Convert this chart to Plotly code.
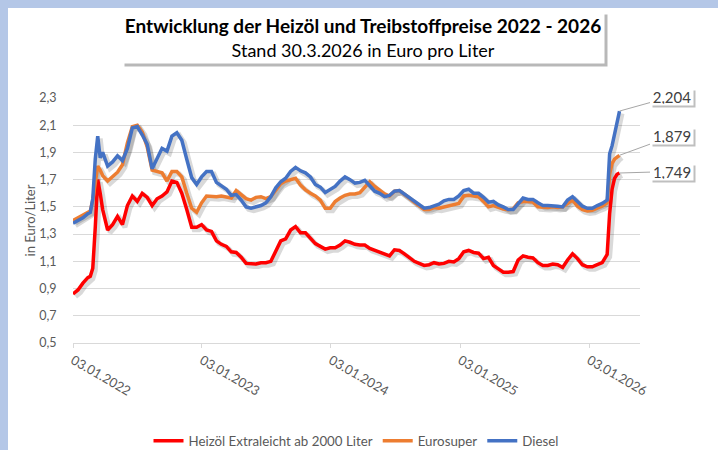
import plotly.graph_objects as go
import pandas as pd

# ---------------- data ----------------
dates = [
    "2022-01-03", "2022-01-17", "2022-01-31", "2022-02-14", "2022-02-21", "2022-02-28",
    "2022-03-07", "2022-03-14", "2022-03-21", "2022-03-28", "2022-04-11", "2022-04-25",
    "2022-05-09", "2022-05-23", "2022-06-06", "2022-06-20", "2022-07-04", "2022-07-18",
    "2022-08-01", "2022-08-15", "2022-08-29", "2022-09-12", "2022-09-26", "2022-10-10",
    "2022-10-24", "2022-11-07", "2022-11-21", "2022-12-05", "2022-12-19",
    "2023-01-02", "2023-01-16", "2023-01-30", "2023-02-13", "2023-02-27", "2023-03-13",
    "2023-03-27", "2023-04-10", "2023-04-24", "2023-05-08", "2023-05-22", "2023-06-05",
    "2023-06-19", "2023-07-03", "2023-07-17", "2023-07-31", "2023-08-14", "2023-08-28",
    "2023-09-11", "2023-09-25", "2023-10-09", "2023-10-23", "2023-11-06", "2023-11-20",
    "2023-12-04", "2023-12-18",
    "2024-01-01", "2024-01-15", "2024-01-29", "2024-02-12", "2024-02-26", "2024-03-11",
    "2024-03-25", "2024-04-08", "2024-04-22", "2024-05-06", "2024-05-20", "2024-06-03",
    "2024-06-17", "2024-07-01", "2024-07-15", "2024-07-29", "2024-08-12", "2024-08-26",
    "2024-09-09", "2024-09-23", "2024-10-07", "2024-10-21", "2024-11-04", "2024-11-18",
    "2024-12-02", "2024-12-16", "2024-12-30",
    "2025-01-13", "2025-01-27", "2025-02-10", "2025-02-24", "2025-03-10", "2025-03-24",
    "2025-04-07", "2025-04-21", "2025-05-05", "2025-05-19", "2025-06-02", "2025-06-16",
    "2025-06-30", "2025-07-14", "2025-07-28", "2025-08-11", "2025-08-25", "2025-09-08",
    "2025-09-22", "2025-10-06", "2025-10-20", "2025-11-03", "2025-11-17", "2025-12-01",
    "2025-12-15", "2025-12-29",
    "2026-01-12", "2026-01-26", "2026-02-09", "2026-02-23", "2026-03-02", "2026-03-09",
    "2026-03-16", "2026-03-23", "2026-03-30",
]

heizoel = [
    0.86, 0.89, 0.94, 0.98, 0.99, 1.05,
    1.35, 1.70, 1.60, 1.48, 1.33, 1.37,
    1.43, 1.37, 1.51, 1.58, 1.54, 1.60,
    1.57, 1.51, 1.56, 1.58, 1.61, 1.69,
    1.68, 1.60, 1.48, 1.35, 1.35,
    1.37, 1.33, 1.32, 1.25, 1.225, 1.21,
    1.17, 1.165, 1.13, 1.085, 1.08, 1.08,
    1.09, 1.09, 1.10, 1.17, 1.25, 1.265,
    1.33, 1.355, 1.31, 1.31, 1.27, 1.23,
    1.21, 1.19,
    1.20, 1.20, 1.22, 1.25, 1.24, 1.225,
    1.22, 1.22, 1.195, 1.18, 1.165, 1.15,
    1.14, 1.185, 1.18, 1.155, 1.125, 1.10,
    1.085, 1.07, 1.075, 1.09, 1.08, 1.085,
    1.10, 1.095, 1.12,
    1.17, 1.18, 1.165, 1.16, 1.12, 1.13,
    1.07, 1.045, 1.02, 1.02, 1.025, 1.11,
    1.14, 1.13, 1.125, 1.09, 1.07, 1.07,
    1.08, 1.075, 1.055, 1.11, 1.155, 1.12,
    1.075, 1.06,
    1.06, 1.075, 1.09, 1.15, 1.45, 1.63,
    1.71, 1.74, 1.749,
]

eurosuper = [
    1.40, 1.42, 1.44, 1.46, 1.47, 1.55,
    1.67, 1.80, 1.77, 1.73, 1.69, 1.72,
    1.755, 1.81, 1.97, 2.09, 2.10, 2.05,
    1.94, 1.77, 1.76, 1.75, 1.69, 1.76,
    1.76, 1.72, 1.60, 1.49, 1.46,
    1.53, 1.58, 1.575, 1.575, 1.58, 1.57,
    1.565, 1.62, 1.59, 1.56, 1.55, 1.57,
    1.575, 1.56, 1.575, 1.62, 1.67, 1.69,
    1.70, 1.71, 1.66, 1.625, 1.60, 1.58,
    1.55, 1.49,
    1.49, 1.54, 1.565, 1.585, 1.595, 1.595,
    1.605, 1.65, 1.685, 1.65, 1.62, 1.595,
    1.58, 1.615, 1.62, 1.595, 1.565, 1.535,
    1.505, 1.48, 1.48, 1.495, 1.49, 1.50,
    1.51, 1.515, 1.525,
    1.58, 1.585, 1.58, 1.575, 1.54, 1.50,
    1.51, 1.495, 1.485, 1.48, 1.485, 1.53,
    1.54, 1.54, 1.535, 1.50, 1.495, 1.495,
    1.50, 1.495, 1.50, 1.525, 1.55, 1.505,
    1.48, 1.47,
    1.475, 1.49, 1.505, 1.53, 1.74, 1.82,
    1.85, 1.865, 1.879,
]

diesel = [
    1.38, 1.40, 1.42, 1.45, 1.46, 1.56,
    1.85, 2.02, 1.86, 1.90, 1.80, 1.83,
    1.875, 1.84, 1.93, 2.08, 2.09, 2.03,
    1.96, 1.78, 1.85, 1.93, 1.91, 2.02,
    2.045, 1.99, 1.85, 1.715, 1.665,
    1.72, 1.76, 1.76, 1.68, 1.655, 1.63,
    1.585, 1.59, 1.55, 1.50, 1.49, 1.50,
    1.51, 1.53, 1.575, 1.64, 1.685, 1.71,
    1.76, 1.79, 1.765, 1.75, 1.72, 1.665,
    1.645, 1.605,
    1.625, 1.65, 1.69, 1.72, 1.70, 1.675,
    1.68, 1.695, 1.655, 1.615, 1.60, 1.575,
    1.585, 1.615, 1.62, 1.595, 1.565, 1.545,
    1.515, 1.49, 1.495, 1.51, 1.52, 1.545,
    1.555, 1.555, 1.58,
    1.62, 1.63, 1.60, 1.60, 1.57, 1.535,
    1.54, 1.515, 1.50, 1.48, 1.48, 1.52,
    1.565, 1.555, 1.555, 1.53, 1.51, 1.51,
    1.51, 1.505, 1.50, 1.55, 1.575, 1.54,
    1.505, 1.49,
    1.49, 1.51, 1.525, 1.55, 1.89, 1.95,
    2.04, 2.13, 2.204,
]

series_names = ["Heizöl Extraleicht ab 2000 Liter", "Eurosuper", "Diesel"]
series_colors = ["#FF0000", "#ED7D31", "#4472C4"]

tick_dates = ["2022-01-03", "2023-01-03", "2024-01-03", "2025-01-03", "2026-01-03"]
tick_labels = ["03.01.2022", "03.01.2023", "03.01.2024", "03.01.2025", "03.01.2026"]
y_ticks = [0.5, 0.7, 0.9, 1.1, 1.3, 1.5, 1.7, 1.9, 2.1, 2.3]

title_line1 = "Entwicklung der Heizöl und Treibstoffpreise 2022 - 2026"
title_line2 = "Stand 30.3.2026 in Euro pro Liter"
y_title = "in Euro/Liter"

# ---------------- layout geometry ----------------
W, H = 718, 450
ML, MR, MT, MB = 73, 78, 98, 107
PW, PH = W - ML - MR, H - MT - MB
x_range = ["2022-01-03", "2026-05-27"]
y_range = [0.5, 2.3]
FONT = "Lato, 'Open Sans', sans-serif"
GRAY = "#595959"
FRAME = "#B4C7E7"

# shadow offset converted from pixels to data units
days_per_px = (pd.Timestamp(x_range[1]) - pd.Timestamp(x_range[0])).days / PW
units_per_px = (y_range[1] - y_range[0]) / PH
sh_px = 2.5
shadow_x = pd.to_datetime(dates) + pd.Timedelta(days=sh_px * days_per_px)

fig = go.Figure()
all_series = [heizoel, eurosuper, diesel]
for vals in all_series:
    fig.add_trace(go.Scatter(
        x=shadow_x, y=[v - sh_px * units_per_px for v in vals], mode="lines",
        line=dict(color="rgba(0,0,0,0.15)", width=5), showlegend=False, hoverinfo="skip"))
for name, vals, col in zip(series_names, all_series, series_colors):
    fig.add_trace(go.Scatter(x=dates, y=vals, name=name, mode="lines",
                             line=dict(color=col, width=3.5)))

def px_to_paper(X, Y):
    return (X - ML) / PW, 1 - (Y - MT) / PH

# title box with shadow
tx, ty = px_to_paper(363, 38)
title_text = (f"<span style='font-size:19px'><b>{title_line1}</b></span>"
              f"<br>{title_line2}")
for shadow in (True, False):
    fig.add_annotation(
        xref="paper", yref="paper", x=tx, y=ty, xanchor="center", yanchor="middle",
        text=" " if shadow else title_text, showarrow=False,
        width=478, height=47,
        font=dict(family=FONT, size=18, color="#000000"),
        bgcolor="rgba(0,0,0,0.28)" if shadow else "white", borderpad=2,
        xshift=3 if shadow else 0, yshift=-3 if shadow else 0, align="center")

# end-value labels
offsets = [(52, -1.5), (52, -19), (52, -14.5)]
for vals, (ax, ay) in zip(all_series, offsets):
    label = f"{vals[-1]:.3f}".replace(".", ",")
    for shadow in (True, False):
        fig.add_annotation(
            x=dates[-1], y=vals[-1], text=" " if shadow else label,
            showarrow=not shadow, arrowhead=0, arrowwidth=1, arrowcolor="#A6A6A6",
            ax=ax, ay=ay, width=40, height=14,
            bgcolor="rgba(0,0,0,0.25)" if shadow else "white", borderpad=1,
            xshift=ax + 2 if shadow else 0, yshift=-ay - 2 if shadow else 0,
            font=dict(family=FONT, size=15, color="#404040"))

# light blue frame strips (top and left)
fig.add_shape(type="rect", xref="paper", yref="paper", layer="below",
              x0=-1, x1=(8 - ML) / PW, y0=-1, y1=2, fillcolor=FRAME, line_width=0)
fig.add_shape(type="rect", xref="paper", yref="paper", layer="below",
              x0=-1, x1=2, y0=1 + (MT - 8) / PH, y1=3, fillcolor=FRAME, line_width=0)

fig.update_layout(
    width=W, height=H, margin=dict(l=ML, r=MR, t=MT, b=MB, autoexpand=False),
    paper_bgcolor="white", plot_bgcolor="white", separators=",.",
    font=dict(family=FONT, size=13, color=GRAY),
    showlegend=True,
    legend=dict(orientation="h", x=(356 - ML) / PW, xanchor="center",
                y=-(441 - (MT + PH)) / PH, yanchor="middle",
                font=dict(family=FONT, size=13.3, color=GRAY), itemwidth=30,
                bgcolor="rgba(0,0,0,0)"),
    xaxis=dict(type="date", range=x_range, tickvals=tick_dates, ticktext=tick_labels,
               tickangle=30, showgrid=False, showline=True, linecolor="#D9D9D9",
               ticks="outside", ticklen=4, tickcolor="#D9D9D9", zeroline=False,
               tickfont=dict(family=FONT, size=13, color=GRAY)),
    yaxis=dict(range=y_range, tickvals=y_ticks, tickformat=".1f", showgrid=True,
               gridcolor="#D9D9D9", gridwidth=1, zeroline=False, showline=False,
               ticks="outside", ticklen=13, tickcolor="rgba(0,0,0,0)",
               tickfont=dict(family=FONT, size=12.5, color=GRAY),
               title=dict(text=y_title, standoff=0,
                          font=dict(family=FONT, size=13, color=GRAY))),
)

fig.write_html("out.html", config={"displayModeBar": False},
               post_script="document.body.style.margin='0px';")
